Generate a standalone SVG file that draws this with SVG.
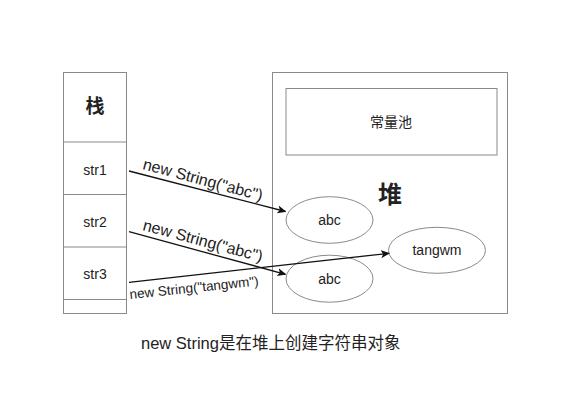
<svg xmlns="http://www.w3.org/2000/svg" width="574" height="400" viewBox="0 0 574 400">
<style>
.box{fill:#fff;stroke:#8a8a8a;stroke-width:1}
.t{font-family:"Liberation Sans","Noto Sans CJK SC",sans-serif;fill:#222;text-anchor:middle}
.lbl{font-family:"Liberation Sans","Noto Sans CJK SC",sans-serif;fill:#222}
.edge{stroke:#111;stroke-width:1.3;fill:none;marker-end:url(#arr)}
</style>
<defs>
<marker id="arr" viewBox="0 0 10 10" refX="9" refY="5" markerWidth="9" markerHeight="9" markerUnits="userSpaceOnUse" orient="auto">
<path d="M0,0.5 L10,5 L0,9.5 L2.5,5 Z" fill="#111"/>
</marker>
</defs>
<rect width="574" height="400" fill="#fff"/>
<g id="stack">
<rect class="box" x="63.5" y="72.5" width="63" height="241"/>
<line class="box" x1="63.5" y1="142" x2="126.5" y2="142"/>
<line class="box" x1="63.5" y1="194.5" x2="126.5" y2="194.5"/>
<line class="box" x1="63.5" y1="247" x2="126.5" y2="247"/>
<line class="box" x1="63.5" y1="299.5" x2="126.5" y2="299.5"/>
<text class="t" x="95" y="113" font-size="19" font-weight="bold">栈</text>
<text class="t" x="95" y="175" font-size="14">str1</text>
<text class="t" x="95" y="227" font-size="14">str2</text>
<text class="t" x="95" y="279" font-size="14">str3</text>
</g>
<g id="heap">
<rect class="box" x="272.5" y="72.5" width="235" height="241"/>
<text class="t" x="390" y="203" font-size="24" font-weight="bold">堆</text>
</g>
<g id="pool">
<rect class="box" x="286" y="88.5" width="211" height="66.5"/>
<text class="t" x="391" y="127" font-size="14">常量池</text>
</g>
<g id="abc1">
<ellipse class="box" cx="329.5" cy="220" rx="43.5" ry="23.3"/>
<text class="t" x="329.5" y="225" font-size="14">abc</text>
</g>
<g id="abc2">
<ellipse class="box" cx="329.5" cy="278.7" rx="43.5" ry="23.5"/>
<text class="t" x="329.5" y="284" font-size="14">abc</text>
</g>
<g id="tangwm">
<ellipse class="box" cx="437" cy="250.3" rx="48.5" ry="23"/>
<text class="t" x="437" y="255" font-size="14">tangwm</text>
</g>
<g id="edges">
<path class="edge" d="M129,171 L285.5,211.5"/>
<path class="edge" d="M129,231.7 L285.5,274.3"/>
<path class="edge" d="M129,282.3 L389,253.3"/>
<text class="lbl" font-size="16" transform="translate(142,169) rotate(15)">new String("abc")</text>
<text class="lbl" font-size="16" transform="translate(142,230) rotate(15)">new String("abc")</text>
<text class="lbl" font-size="13.5" transform="translate(130,299) rotate(-6)">new String("tangwm")</text>
</g>
<text class="lbl" x="141" y="349" font-size="16.5" fill="#333">new String是在堆上创建字符串对象</text>
</svg>
